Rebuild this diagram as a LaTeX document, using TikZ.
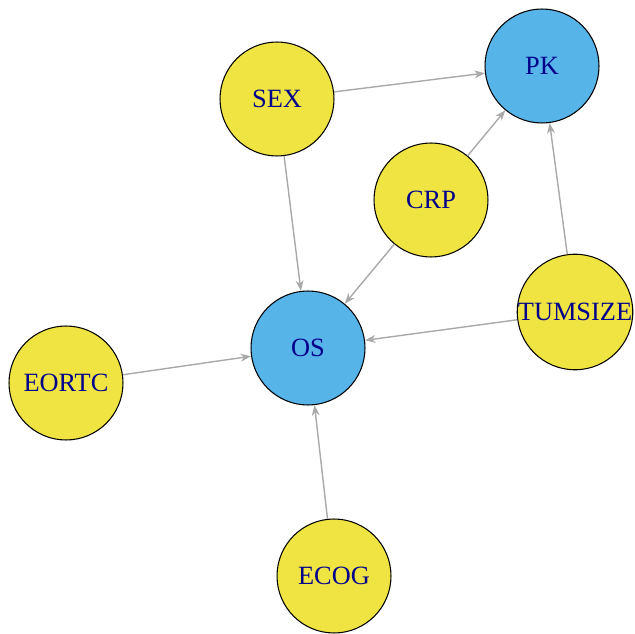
\documentclass[tikz,border=0pt]{standalone}
\usepackage{fontspec}
\setmainfont{Liberation Serif}
\usepackage{tikz}
\usetikzlibrary{arrows.meta}

\definecolor{nodeyellow}{HTML}{F0E442}
\definecolor{nodeblue}{HTML}{56B4E9}
\definecolor{labelblue}{HTML}{00008B}
\definecolor{edgegray}{HTML}{A9A9A9}

\begin{document}
\begin{tikzpicture}[x=0.02cm,y=-0.02cm,
    var/.style={circle,draw=black,line width=0.6pt,fill=nodeyellow,
        minimum size=2.28cm,inner sep=0pt,text=labelblue,
        font=\fontsize{15}{18}\selectfont},
    outc/.style={var,fill=nodeblue},
    edge/.style={draw=edgegray,line width=0.8pt,
        -{Stealth[length=6pt,width=4.5pt]}}]
\useasboundingbox (0,0) rectangle (635,634);

\node[var]  (sex)     at (277,99)  {SEX};
\node[outc] (pk)      at (542,66)  {PK};
\node[var]  (crp)     at (431,200) {CRP};
\node[var]  (tumsize) at (575,312) {TUMSIZE};
\node[outc] (os)      at (308,348) {OS};
\node[var]  (eortc)   at (66,383)  {EORTC};
\node[var]  (ecog)    at (334,576) {ECOG};

\draw[edge] (sex) -- (pk);
\draw[edge] (sex) -- (os);
\draw[edge] (crp) -- (pk);
\draw[edge] (crp) -- (os);
\draw[edge] (tumsize) -- (pk);
\draw[edge] (tumsize) -- (os);
\draw[edge] (eortc) -- (os);
\draw[edge] (ecog) -- (os);
\end{tikzpicture}
\end{document}
